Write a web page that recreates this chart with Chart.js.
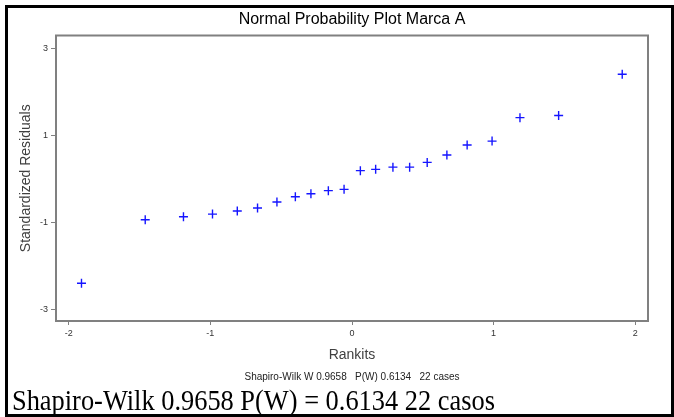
<!DOCTYPE html>
<html>
<head>
<meta charset="utf-8">
<script src="https://cdn.jsdelivr.net/npm/chart.js@4.4.1/dist/chart.umd.min.js"></script>
<style>
body { margin: 0; background: #fff; }
#wrap { position: relative; width: 674px; height: 417px; overflow: hidden; }
#frame { position: absolute; left: 5px; top: 5px; width: 669px; height: 412px; box-sizing: border-box; border: 3px solid #000; }
#chart { position: absolute; left: 0; top: 0; }
#note { position: absolute; left: 12px; top: 388px; font-family: "Liberation Serif", "Times New Roman", serif; font-size: 26.4px; line-height: 26px; white-space: nowrap; color: #000; transform: scaleY(1.13); transform-origin: 0 84%; }
</style>
</head>
<body>
<div id="wrap">
  <div id="frame"></div>
  <canvas id="chart" width="674" height="417"></canvas>
  <div id="note">Shapiro-Wilk 0.9658 P(W) = 0.6134 22 casos</div>
</div>
<script>
// rankits (expected normal scores) and standardized residuals
var rankits = [-1.91, -1.46, -1.19, -0.985, -0.81, -0.667, -0.53, -0.40, -0.29, -0.167, -0.056,
               0.059, 0.167, 0.289, 0.407, 0.531, 0.67, 0.813, 0.989, 1.186, 1.459, 1.908];
var residuals = [-2.40, -0.94, -0.87, -0.81, -0.74, -0.67, -0.53, -0.41, -0.34, -0.27, -0.24,
                 0.19, 0.22, 0.27, 0.27, 0.38, 0.55, 0.78, 0.87, 1.41, 1.46, 2.41];
var xTicks = [-2, -1, 0, 1, 2];
var yTicks = [-3, -1, 1, 3];

var points = rankits.map(function (x, i) { return { x: x, y: residuals[i] }; });

var boxPlugin = {
  id: 'box',
  afterDatasetsDraw: function (chart) {
    var ctx = chart.ctx, a = chart.chartArea;
    ctx.save();
    ctx.strokeStyle = '#808080';
    ctx.lineWidth = 2;
    ctx.strokeRect(a.left, a.top, a.right - a.left, a.bottom - a.top);
    ctx.restore();
  }
};

var fontFam = '"Liberation Sans", Arial, sans-serif';

new Chart(document.getElementById('chart').getContext('2d'), {
  type: 'scatter',
  data: {
    datasets: [{
      data: points,
      pointStyle: 'cross',
      pointRadius: 4.5,
      pointHoverRadius: 4.5,
      pointBorderWidth: 1.4,
      borderColor: '#1515ff',
      backgroundColor: '#1515ff'
    }]
  },
  plugins: [boxPlugin],
  options: {
    responsive: false,
    animation: false,
    devicePixelRatio: 1,
    layout: { padding: { left: 0, right: 26, top: 0, bottom: 34 } },
    plugins: {
      legend: { display: false },
      tooltip: { enabled: false },
      title: {
        display: true,
        text: 'Normal Probability Plot Marca A',
        fullSize: false,
        color: '#000',
        font: { family: fontFam, size: 16, weight: 'normal' },
        padding: { top: 10.4, bottom: 5.9 }
      },
      subtitle: {
        display: true,
        position: 'bottom',
        fullSize: false,
        text: 'Shapiro-Wilk W 0.9658   P(W) 0.6134   22 cases',
        color: '#222',
        font: { family: fontFam, size: 10 },
        padding: { top: 2, bottom: 0 }
      }
    },
    scales: {
      x: {
        type: 'linear',
        min: -2.09,
        max: 2.09,
        afterBuildTicks: function (s) { s.ticks = xTicks.map(function (v) { return { value: v }; }); },
        afterFit: function (s) { s.height = 48; },
        grid: { display: true, drawOnChartArea: false, drawTicks: true, tickLength: 4, color: '#808080', tickColor: '#808080' },
        border: { display: false },
        ticks: { color: '#333', font: { family: fontFam, size: 9 }, padding: 3, maxRotation: 0 },
        title: { display: true, text: 'Rankits', color: '#404040', font: { family: fontFam, size: 14 }, padding: { top: 0, bottom: 5.1 } }
      },
      y: {
        type: 'linear',
        min: -3.27,
        max: 3.30,
        afterBuildTicks: function (s) { s.ticks = yTicks.map(function (v) { return { value: v }; }); },
        afterFit: function (s) { s.width = 56; },
        grid: { display: true, drawOnChartArea: false, drawTicks: true, tickLength: 5, color: '#808080', tickColor: '#808080' },
        border: { display: false },
        ticks: { color: '#333', font: { family: fontFam, size: 9 }, padding: 3 },
        title: { display: true, text: 'Standardized Residuals', color: '#404040', font: { family: fontFam, size: 14 }, padding: { top: 17.6, bottom: 0 } }
      }
    }
  }
});
</script>
</body>
</html>
